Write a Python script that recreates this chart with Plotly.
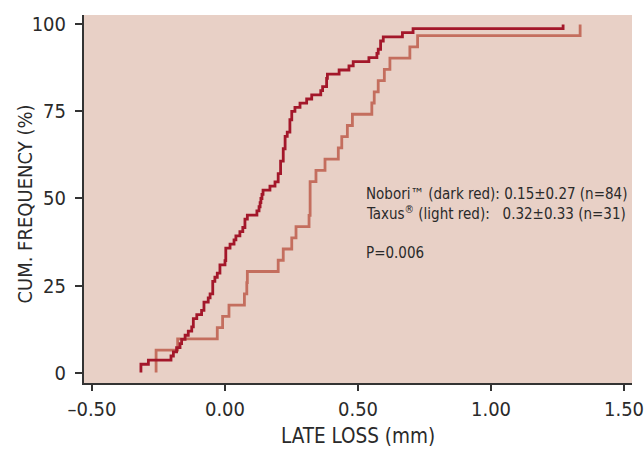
import plotly.graph_objects as go

# Late loss values (mm)
nobori = [-0.316, -0.316, -0.288, -0.203, -0.194, -0.182, -0.169, -0.163, -0.150, -0.138,
          -0.125, -0.119, -0.119, -0.106, -0.088, -0.079, -0.079, -0.063, -0.056, -0.046,
          -0.046, -0.046, -0.038, -0.029, -0.019, -0.019, 0.000, 0.003, 0.003, 0.003,
          0.019, 0.034, 0.041, 0.056, 0.067, 0.075, 0.075, 0.084, 0.120, 0.128,
          0.132, 0.135, 0.139, 0.143, 0.169, 0.188, 0.200, 0.200, 0.209, 0.209,
          0.209, 0.219, 0.219, 0.219, 0.226, 0.226, 0.226, 0.234, 0.244, 0.244,
          0.244, 0.251, 0.251, 0.263, 0.282, 0.307, 0.326, 0.360, 0.367, 0.382,
          0.382, 0.385, 0.429, 0.466, 0.482, 0.541, 0.571, 0.576, 0.585, 0.585,
          0.595, 0.667, 0.707, 1.271]
taxus = [-0.259, -0.259, -0.178, -0.029, -0.009, 0.015, 0.073, 0.082, 0.084, 0.200,
         0.219, 0.251, 0.267, 0.316, 0.320, 0.320, 0.320, 0.342, 0.376, 0.426,
         0.439, 0.460, 0.479, 0.552, 0.561, 0.576, 0.599, 0.620, 0.695, 0.724,
         1.335]

x_tickvals = [-0.5, 0.0, 0.5, 1.0, 1.5]
x_ticktext = ["\u20130.50", "0.00", "0.50", "1.00", "1.50"]
y_tickvals = [0, 25, 50, 75, 100]

DARK = "#A3172A"
LIGHT = "#C46E5E"
TEXT = "#2a2a2a"


def ecdf(vals):
    v = sorted(vals)
    n = len(v)
    xs = [v[0]] + v
    ys = [0.0] + [100.0 * (i + 1) / n for i in range(n)]
    return xs, ys


fig = go.Figure()
tx, ty = ecdf(taxus)
fig.add_trace(go.Scatter(x=tx, y=ty, mode="lines", line=dict(shape="hv", color=LIGHT, width=2.8),
                         showlegend=False, hoverinfo="skip"))
nx, ny = ecdf(nobori)
fig.add_trace(go.Scatter(x=nx, y=ny, mode="lines", line=dict(shape="hv", color=DARK, width=2.8),
                         showlegend=False, hoverinfo="skip"))

font_main = "DejaVu Sans Condensed, Liberation Sans, sans-serif"
ann_font = dict(family=font_main, size=15, color=TEXT)
fig.add_annotation(x=0.524, y=51.4, xref="x", yref="y", xanchor="left", yanchor="middle",
                   text="Nobori\u2122 (dark red): 0.15\u00b10.27 (n=84)", showarrow=False, font=ann_font)
fig.add_annotation(x=0.524, y=45.7, xref="x", yref="y", xanchor="left", yanchor="middle",
                   text="Taxus<sup>\u00ae</sup> (light red):   0.32\u00b10.33 (n=31)", showarrow=False, font=ann_font)
fig.add_annotation(x=0.524, y=34.4, xref="x", yref="y", xanchor="left", yanchor="middle",
                   text="P=0.006", showarrow=False, font=ann_font)
# y-axis title
fig.add_annotation(x=-0.108, y=0.487, xref="paper", yref="paper", xanchor="center", yanchor="middle",
                   text="CUM. FREQUENCY (%)", textangle=-90, showarrow=False,
                   font=dict(family=font_main, size=20, color=TEXT))

fig.update_layout(
    width=644, height=450,
    margin=dict(l=84, r=12, t=15, b=67),
    paper_bgcolor="white",
    plot_bgcolor="#E8D0C6",
    font=dict(family=font_main, color=TEXT),
)
tickfont = dict(family=font_main, size=20, color=TEXT)
fig.update_xaxes(range=[-0.53, 1.53], tickvals=x_tickvals, ticktext=x_ticktext, automargin=False,
                 showgrid=False, zeroline=False, showline=True, linecolor="#333333", linewidth=2,
                 ticks="outside", ticklen=6, tickcolor="#333333", tickwidth=1.5, ticklabelstandoff=1,
                 ticklabeloverflow="allow", tickfont=tickfont,
                 title=dict(text="LATE LOSS (mm)", font=dict(size=20.5), standoff=9))
fig.update_yaxes(range=[-3, 102.7], tickvals=y_tickvals, automargin=False,
                 showgrid=False, zeroline=False, showline=True, linecolor="#333333", linewidth=2,
                 ticks="outside", ticklen=7, tickcolor="#333333", tickwidth=1.5, ticklabelstandoff=5,
                 ticklabeloverflow="allow", tickfont=tickfont)

fig.write_html("out.html", config={"displayModeBar": False},
               post_script="document.body.style.margin='0';")
